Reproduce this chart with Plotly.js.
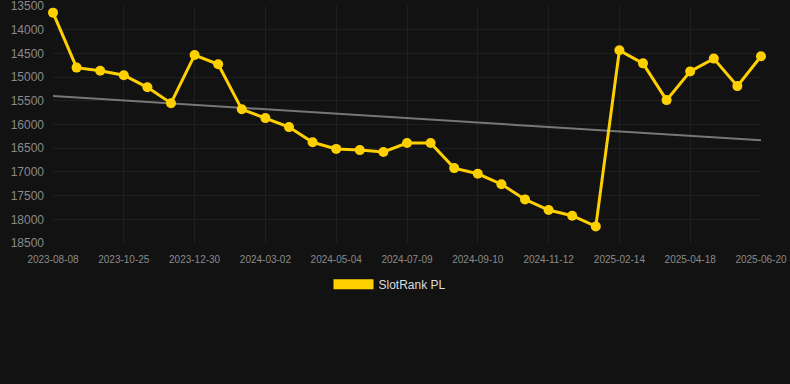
<!DOCTYPE html>
<html>
<head>
<meta charset="utf-8">
<script src="https://cdn.plot.ly/plotly-3.0.1.min.js"></script>
<style>
html,body{margin:0;padding:0;background:#121212;}
#chart{width:790px;height:384px;}
</style>
</head>
<body>
<div id="chart"></div>
<script>
// Category dates (every third one is labelled on the axis)
const dates = [
  "2023-08-08","2023-08-31","2023-09-28","2023-10-25","2023-11-17","2023-12-08",
  "2023-12-30","2024-01-20","2024-02-10","2024-03-02","2024-03-23","2024-04-13",
  "2024-05-04","2024-05-26","2024-06-17","2024-07-09","2024-07-30","2024-08-20",
  "2024-09-10","2024-10-01","2024-10-22","2024-11-12","2024-12-13","2025-01-14",
  "2025-02-14","2025-03-07","2025-03-28","2025-04-18","2025-05-09","2025-05-30",
  "2025-06-20"
];
const ranks = [
  13640, 14800, 14865, 14960, 15215, 15550,
  14535, 14730, 15680, 15865, 16055, 16375,
  16515, 16540, 16580, 16390, 16390, 16920,
  17040, 17260, 17580, 17805, 17925, 18150,
  14435, 14710, 15485, 14880, 14610, 15190,
  14560
];
const tickDates = ["2023-08-08","2023-10-25","2023-12-30","2024-03-02","2024-05-04",
  "2024-07-09","2024-09-10","2024-11-12","2025-02-14","2025-04-18","2025-06-20"];
const yTicks = [13500,14000,14500,15000,15500,16000,16500,17000,17500,18000,18500];
const yTickText = ["13500","14000","14500","15000","15500","16000","16500","17000","17500","18000","18500"];
const trendX = ["2023-08-08","2025-06-20"];
const trendY = [15400, 16330];
const seriesName = "SlotRank PL";

const gold = "#FFD000";
const traces = [
  {
    x: trendX, y: trendY, type: "scatter", mode: "lines",
    line: {color: "#777777", width: 2}, showlegend: false, hoverinfo: "skip",
    cliponaxis: false
  },
  {
    x: dates, y: ranks, type: "scatter", mode: "lines+markers",
    line: {color: gold, width: 3}, marker: {color: gold, size: 10},
    showlegend: false, name: seriesName, cliponaxis: false
  },
  {
    x: [null], y: [null], type: "scatter", mode: "lines",
    line: {color: gold, width: 12}, name: seriesName, showlegend: true
  }
];

const layout = {
  width: 790, height: 384,
  paper_bgcolor: "#121212", plot_bgcolor: "#121212",
  margin: {l: 53, r: 29, t: 6, b: 141},
  font: {family: "Liberation Sans, Arial, sans-serif", color: "#999999"},
  xaxis: {
    type: "category", categoryorder: "array", categoryarray: dates,
    range: [0, 30], tickvals: tickDates, ticktext: tickDates,
    tickfont: {size: 10, color: "#8a8a8a"},
    showgrid: true, gridcolor: "#1f1f1f", zeroline: false, showline: false,
    ticks: "", ticklabelstandoff: 9, ticklabeloverflow: "allow"
  },
  yaxis: {
    range: [18500, 13500], tickvals: yTicks, ticktext: yTickText,
    tickfont: {size: 12, color: "#8a8a8a"},
    showgrid: true, gridcolor: "#1f1f1f", zeroline: false, showline: false,
    ticks: "", ticklabelstandoff: 8, ticklabeloverflow: "allow"
  },
  showlegend: true,
  legend: {
    orientation: "h", x: 0.476, xanchor: "center", y: -0.113, yanchor: "top",
    itemwidth: 40,
    font: {size: 12, color: "#dddddd"}, bgcolor: "rgba(0,0,0,0)"
  }
};

Plotly.newPlot("chart", traces, layout, {displayModeBar: false, staticPlot: true});
</script>
</body>
</html>
